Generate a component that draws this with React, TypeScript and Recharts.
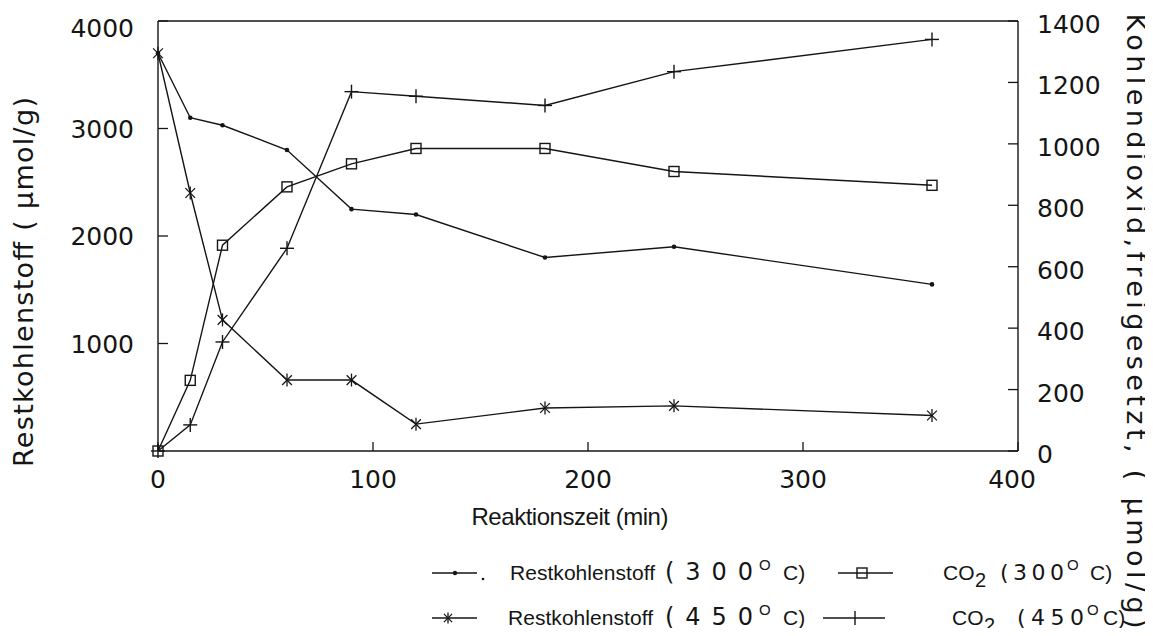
import React from "react";
import { LineChart, Line, XAxis, YAxis, ReferenceLine } from "recharts";

// Reaktionszeit (min)
const times = [0, 15, 30, 60, 90, 120, 180, 240, 360];
// Restkohlenstoff (µmol/g), left axis
const rest300 = [3700, 3100, 3030, 2800, 2250, 2200, 1800, 1900, 1550];
const rest450 = [3700, 2400, 1220, 660, 660, 250, 400, 420, 330];
// Kohlendioxid freigesetzt (µmol/g), right axis
const co2At300 = [0, 230, 670, 860, 935, 985, 985, 910, 865];
const co2At450 = [0, 85, 355, 660, 1170, 1155, 1125, 1235, 1340];

const xTicks = [0, 100, 200, 300, 400];
const leftTicks = [1000, 2000, 3000, 4000];
const rightTicks = [0, 200, 400, 600, 800, 1000, 1200, 1400];

const data = times.map((t, i) => ({
  t,
  rest300: rest300[i],
  rest450: rest450[i],
  co2At300: co2At300[i],
  co2At450: co2At450[i],
}));

const W = 1153;
const H = 636;
const LEFT = 158;
const RIGHT = 1018;
const TOP = 21;
const BOTTOM = 451;
const INK = "#151515";
const NUM_FONT = "'DejaVu Sans', sans-serif";
const TXT_FONT = "'Liberation Sans', Arial, sans-serif";

const SmallDot = (p: any) => (
  <circle key={"d" + p.index} cx={p.cx} cy={p.cy} r={2.3} fill={INK} />
);

const Star = ({ cx, cy, r = 6.5 }: any) => {
  const d = r * 0.75;
  return (
    <g stroke={INK} strokeWidth={1.3}>
      <line x1={cx} y1={cy - r} x2={cx} y2={cy + r} />
      <line x1={cx - d} y1={cy - d} x2={cx + d} y2={cy + d} />
      <line x1={cx - d} y1={cy + d} x2={cx + d} y2={cy - d} />
    </g>
  );
};
const StarDot = (p: any) => <Star key={"s" + p.index} cx={p.cx} cy={p.cy} />;

const Square = ({ cx, cy, s = 10 }: any) => (
  <rect x={cx - s / 2} y={cy - s / 2} width={s} height={s} fill="none" stroke={INK} strokeWidth={1.4} />
);
const SquareDot = (p: any) => <Square key={"q" + p.index} cx={p.cx} cy={p.cy} />;

const Plus = ({ cx, cy, r = 7 }: any) => (
  <g stroke={INK} strokeWidth={1.4}>
    <line x1={cx} y1={cy - r} x2={cx} y2={cy + r} />
    <line x1={cx - r} y1={cy} x2={cx + r} y2={cy} />
  </g>
);
const PlusDot = (p: any) => <Plus key={"p" + p.index} cx={p.cx} cy={p.cy} />;

const LeftTick = ({ y, payload }: any) => (
  <g>
    <line x1={LEFT} x2={LEFT + 10} y1={y} y2={y} stroke={INK} strokeWidth={1.3} />
    <text
      x={LEFT - 24}
      y={y + 9 + (payload.value === 4000 ? 7 : 0)}
      textAnchor="end"
      fontFamily={NUM_FONT}
      fontSize={25}
      fill={INK}
    >
      {payload.value}
    </text>
  </g>
);

const RightTick = ({ y, payload }: any) => (
  <g>
    <line x1={RIGHT - 10} x2={RIGHT} y1={y} y2={y} stroke={INK} strokeWidth={1.3} />
    <text x={RIGHT + 19} y={y + 12} textAnchor="start" fontFamily={NUM_FONT} fontSize={25} fill={INK}>
      {payload.value}
    </text>
  </g>
);

const BottomTick = ({ x, payload }: any) => (
  <g>
    <line x1={x} x2={x} y1={BOTTOM} y2={BOTTOM - 9} stroke={INK} strokeWidth={1.3} />
    <text
      x={x + (payload.value === 400 ? -6 : 0)}
      y={488}
      textAnchor="middle"
      fontFamily={NUM_FONT}
      fontSize={25}
      fill={INK}
    >
      {payload.value}
    </text>
  </g>
);

const leftTitle = () => (
  <text
    x={33}
    y={282}
    transform="rotate(-90 33 282)"
    textAnchor="middle"
    fontFamily={NUM_FONT}
    fontSize={27}
    textLength={370}
    lengthAdjust="spacing"
    fill={INK}
  >
    Restkohlenstoff ( μmol/g)
  </text>
);

const rightTitle = () => (
  <text
    x={1127}
    y={321}
    transform="rotate(90 1127 321)"
    textAnchor="middle"
    fontFamily={NUM_FONT}
    fontSize={27}
    textLength={615}
    lengthAdjust="spacing"
    fill={INK}
  >
    Kohlendioxid,freigesetzt, ( μmol/g)
  </text>
);

const bottomTitle = () => (
  <text
    x={570}
    y={525}
    textAnchor="middle"
    fontFamily={TXT_FONT}
    fontSize={24}
    textLength={197}
    lengthAdjust="spacing"
    fill={INK}
  >
    Reaktionszeit (min)
  </text>
);

// one piece of legend text, placed where it sits in the original
const T = ({ x, y, len, size = 21, font = TXT_FONT, children }: any) => (
  <text
    x={x}
    y={y}
    fontFamily={font}
    fontSize={size}
    textLength={len}
    lengthAdjust={len ? "spacing" : undefined}
    fill={INK}
  >
    {children}
  </text>
);

const LegendOverlay = () => (
  <svg width={W} height={H} style={{ position: "absolute", left: 0, top: 0, pointerEvents: "none" }}>
    {/* row 1 */}
    <line x1={432} x2={477} y1={573} y2={573} stroke={INK} strokeWidth={1.3} />
    <circle cx={455} cy={573} r={2.2} fill={INK} />
    <circle cx={483} cy={579} r={1.3} fill={INK} />
    <T x={510} y={580} len={145}>Restkohlenstoff</T>
    <T x={665} y={580} len={88} size={24} font={NUM_FONT}>(300</T>
    <T x={759} y={570} size={15}>O</T>
    <T x={783} y={580}>C)</T>
    <line x1={838} x2={893} y1={573} y2={573} stroke={INK} strokeWidth={1.3} />
    <Square cx={862} cy={573} />
    <T x={943} y={580}>CO</T>
    <T x={975} y={587} size={20}>2</T>
    <T x={1000} y={580} len={64} size={22} font={NUM_FONT}>(300</T>
    <T x={1067} y={570} size={15}>O</T>
    <T x={1090} y={580}>C)</T>
    {/* row 2 */}
    <line x1={432} x2={477} y1={618} y2={618} stroke={INK} strokeWidth={1.3} />
    <Star cx={448} cy={618} r={5.5} />
    <T x={508} y={625} len={145}>Restkohlenstoff</T>
    <T x={665} y={625} len={88} size={24} font={NUM_FONT}>(450</T>
    <T x={759} y={615} size={15}>O</T>
    <T x={783} y={625}>C)</T>
    <line x1={823} x2={885} y1={618} y2={618} stroke={INK} strokeWidth={1.3} />
    <line x1={855} x2={855} y1={611} y2={625} stroke={INK} strokeWidth={1.4} />
    <T x={952} y={625}>CO</T>
    <T x={984} y={632} size={20}>2</T>
    <T x={1017} y={625} len={67} size={22} font={NUM_FONT}>(450</T>
    <T x={1087} y={615} size={15}>O</T>
    <T x={1103} y={625}>C)</T>
  </svg>
);

export default function App() {
  return (
    <div style={{ margin: -8, position: "relative", width: W, height: H, background: "#fff" }}>
      <LineChart width={W} height={H} data={data} margin={{ top: TOP, right: 0, bottom: 0, left: 0 }}>
        <XAxis
          dataKey="t"
          type="number"
          domain={[0, 400]}
          ticks={xTicks}
          height={H - BOTTOM}
          axisLine={{ stroke: INK, strokeWidth: 1.4 }}
          tickLine={false}
          tick={<BottomTick />}
          label={{ content: bottomTitle }}
        />
        <YAxis
          yAxisId="left"
          orientation="left"
          width={LEFT}
          type="number"
          domain={[0, 4000]}
          ticks={leftTicks}
          axisLine={{ stroke: INK, strokeWidth: 1.4 }}
          tickLine={false}
          tick={<LeftTick />}
          label={{ content: leftTitle }}
        />
        <YAxis
          yAxisId="right"
          orientation="right"
          width={W - RIGHT}
          type="number"
          domain={[0, 1400]}
          ticks={rightTicks}
          axisLine={{ stroke: INK, strokeWidth: 1.4 }}
          tickLine={false}
          tick={<RightTick />}
          label={{ content: rightTitle }}
        />
        <ReferenceLine yAxisId="left" y={4000} stroke={INK} strokeWidth={1.4} />
        <Line yAxisId="left" dataKey="rest300" stroke={INK} strokeWidth={1.4} dot={SmallDot} isAnimationActive={false} />
        <Line yAxisId="left" dataKey="rest450" stroke={INK} strokeWidth={1.4} dot={StarDot} isAnimationActive={false} />
        <Line yAxisId="right" dataKey="co2At300" stroke={INK} strokeWidth={1.4} dot={SquareDot} isAnimationActive={false} />
        <Line yAxisId="right" dataKey="co2At450" stroke={INK} strokeWidth={1.4} dot={PlusDot} isAnimationActive={false} />
      </LineChart>
      <LegendOverlay />
    </div>
  );
}
